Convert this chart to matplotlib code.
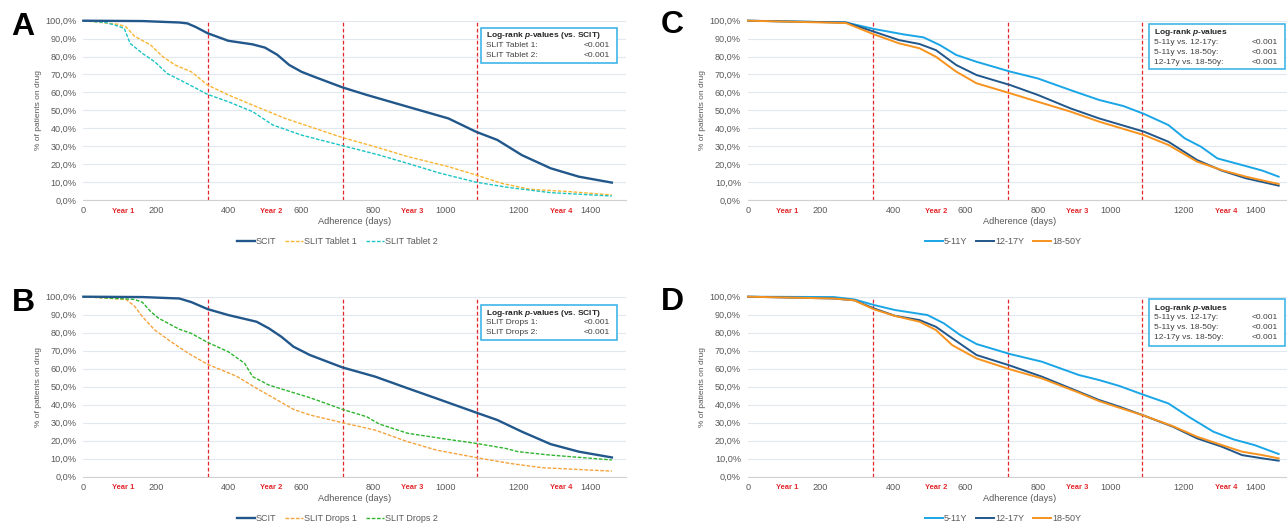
import numpy as np
import matplotlib
matplotlib.use("Agg")
import matplotlib.pyplot as plt
from matplotlib.patches import Rectangle
from matplotlib.transforms import blended_transform_factory

plt.rcParams['font.family'] = ['Liberation Sans', 'DejaVu Sans']
plt.rcParams['mathtext.fontset'] = 'custom'
plt.rcParams['mathtext.it'] = 'Liberation Sans:italic:bold'
plt.rcParams['mathtext.rm'] = 'Liberation Sans:bold'

# ---- data ----
year_lines = [345, 717, 1087]
year_labels = ["Year 1", "Year 2", "Year 3", "Year 4"]
year_label_pos = [109, 518, 907, 1318]
x_ticks = [0, 200, 400, 600, 800, 1000, 1200, 1400]
y_ticks = [0, 10, 20, 30, 40, 50, 60, 70, 80, 90, 100]

# panel A
a_scit_days = [0, 163, 265, 287, 310, 343, 400, 467, 501, 535, 568, 602, 636, 715, 782, 895, 1007, 1084, 1142, 1210, 1289, 1367, 1458]
a_scit_pct = [100, 99.8, 99.0, 98.5, 96.5, 93.0, 88.8, 86.8, 85.0, 81.0, 75.3, 71.5, 68.8, 62.8, 58.6, 52.0, 45.5, 38.0, 33.5, 25.0, 17.7, 13.0, 9.7]
a_tab1_days = [0, 96, 118, 141, 186, 219, 253, 298, 343, 400, 490, 557, 625, 715, 805, 895, 1007, 1084, 1154, 1232, 1345, 1458]
a_tab1_pct = [100, 98.0, 96.5, 91.4, 86.4, 80.0, 75.3, 71.5, 64.1, 58.6, 51.0, 45.5, 40.9, 34.8, 29.7, 24.2, 18.6, 13.9, 9.3, 6.0, 4.6, 2.8]
a_tab2_days = [0, 62, 96, 113, 129, 163, 197, 231, 276, 343, 400, 467, 523, 602, 715, 816, 895, 985, 1084, 1176, 1289, 1458]
a_tab2_pct = [100, 99.0, 97.0, 95.7, 87.4, 81.8, 77.1, 70.6, 66.0, 58.9, 54.8, 49.3, 41.8, 36.2, 30.3, 25.1, 20.4, 14.9, 9.9, 6.9, 4.1, 2.2]

# panel B
b_scit_days = [0, 163, 265, 298, 343, 400, 478, 512, 546, 580, 625, 715, 805, 895, 974, 1084, 1142, 1210, 1289, 1367, 1458]
b_scit_pct = [100, 99.8, 99.0, 97.0, 93.1, 89.8, 86.1, 82.4, 77.8, 72.2, 67.6, 60.7, 55.6, 49.1, 43.5, 35.6, 31.5, 25.0, 18.1, 13.9, 10.7]
b_drop1_days = [0, 118, 141, 163, 197, 242, 287, 343, 422, 478, 535, 580, 625, 715, 805, 895, 974, 1084, 1176, 1266, 1458]
b_drop1_pct = [100, 98.5, 94.8, 88.9, 81.5, 75.0, 68.9, 62.4, 55.9, 49.1, 42.6, 37.4, 34.3, 30.0, 25.9, 19.4, 14.8, 10.6, 7.4, 5.0, 3.1]
b_drop2_days = [0, 141, 163, 186, 208, 265, 298, 343, 400, 445, 467, 512, 557, 625, 670, 715, 782, 816, 895, 1007, 1084, 1165, 1199, 1289, 1458]
b_drop2_pct = [100, 98.5, 96.9, 91.7, 88.0, 81.9, 79.6, 74.6, 69.4, 63.0, 55.6, 50.9, 48.1, 43.9, 40.7, 37.4, 33.3, 29.3, 24.1, 20.7, 18.5, 15.7, 13.9, 12.0, 9.3]

# panel C
c_young_days = [0, 270, 347, 428, 484, 529, 574, 630, 723, 799, 889, 968, 1035, 1092, 1159, 1204, 1249, 1294, 1362, 1418, 1463]
c_young_pct = [100, 99.0, 95.4, 92.4, 90.7, 86.4, 80.9, 77.1, 71.6, 67.8, 61.3, 55.8, 52.4, 48.0, 41.8, 34.4, 29.7, 23.2, 19.5, 16.4, 13.0]
c_teen_days = [0, 270, 347, 416, 473, 518, 574, 630, 723, 799, 889, 968, 1092, 1159, 1238, 1306, 1373, 1463]
c_teen_pct = [100, 99.0, 93.9, 89.2, 87.0, 83.6, 75.3, 69.7, 64.1, 58.6, 51.1, 45.5, 38.1, 32.5, 22.3, 16.4, 12.1, 8.0]
c_adult_days = [0, 270, 347, 416, 473, 518, 574, 630, 723, 799, 889, 968, 1092, 1159, 1238, 1306, 1373, 1463]
c_adult_pct = [100, 98.7, 92.4, 87.4, 84.6, 79.9, 71.6, 65.1, 59.5, 54.8, 49.3, 43.7, 36.2, 30.7, 21.4, 16.7, 13.0, 8.9]

# panel D
d_young_days = [0, 236, 293, 347, 405, 495, 540, 585, 630, 723, 810, 912, 968, 1024, 1092, 1159, 1215, 1283, 1339, 1396, 1463]
d_young_pct = [100, 99.8, 98.5, 95.4, 92.6, 89.8, 85.2, 78.7, 73.7, 68.1, 63.9, 56.5, 53.7, 50.4, 45.4, 40.7, 33.3, 25.0, 20.7, 17.6, 12.6]
d_teen_days = [0, 236, 293, 347, 405, 473, 518, 563, 630, 723, 810, 912, 968, 1024, 1092, 1171, 1238, 1306, 1362, 1418, 1463]
d_teen_pct = [100, 99.0, 98.0, 93.5, 89.4, 87.0, 83.3, 76.9, 67.6, 61.7, 55.6, 47.2, 42.6, 38.9, 33.9, 27.8, 21.3, 16.7, 12.0, 10.2, 8.9]
d_adult_days = [0, 236, 293, 347, 405, 473, 518, 563, 630, 723, 810, 912, 968, 1024, 1092, 1171, 1238, 1306, 1362, 1418, 1463]
d_adult_pct = [100, 99.0, 98.0, 93.0, 89.3, 86.1, 81.5, 73.1, 65.7, 59.6, 54.6, 46.7, 42.0, 38.3, 33.9, 28.1, 22.2, 17.6, 13.9, 12.0, 10.2]

pvals_scit_tab = [("SLIT Tablet 1:", "<0.001"), ("SLIT Tablet 2:", "<0.001")]
pvals_scit_drop = [("SLIT Drops 1:", "<0.001"), ("SLIT Drops 2:", "<0.001")]
pvals_age = [("5-11y vs. 12-17y:", "<0.001"), ("5-11y vs. 18-50y:", "<0.001"), ("12-17y vs. 18-50y:", "<0.001")]

DARK = "#21578a"
TEXT = "#595959"
RED = "#e3262b"
FW, FH = 1287, 523


def px_axes(fig, left, top, right, bottom):
    return fig.add_axes([left / FW, 1 - bottom / FH, (right - left) / FW, (bottom - top) / FH])


def setup_axes(ax):
    ax.set_xlim(0, 1497)
    ax.set_ylim(0, 100)
    ax.set_xticks(x_ticks)
    ax.set_yticks(y_ticks)
    ax.set_yticklabels([f"{v:.1f}%".replace(".", ",") for v in y_ticks])
    ax.tick_params(length=0, labelsize=6.6, colors=TEXT, pad=4.5)
    ax.tick_params(axis='y', pad=5)
    for s in ['top', 'right', 'left']:
        ax.spines[s].set_visible(False)
    ax.spines['bottom'].set_color("#d0d0d0")
    ax.grid(axis='y', color="#e2e8ef", lw=0.8)
    ax.set_axisbelow(True)
    for x in year_lines:
        ax.axvline(x, color=RED, lw=0.9, ls=(0, (3, 1.8)), zorder=1)
    tr = blended_transform_factory(ax.transData, ax.transAxes)
    for lab, x in zip(year_labels, year_label_pos):
        ax.text(x, -0.062, lab, transform=tr, color=RED, fontsize=5.4, fontweight='bold',
                ha='center', va='center')
    ax.text(0.5, -0.121, "Adherence (days)", transform=ax.transAxes, fontsize=6.7,
            color=TEXT, ha='center', va='center')
    ax.set_ylabel("% of patients on drug", fontsize=6, color=TEXT)
    ax.yaxis.set_label_coords(-0.077, 0.5)


def pvalue_box(ax, x0, x1, y_top, y_bot, rows, title, lx, rx, row_y):
    ax.add_patch(Rectangle((x0, y_bot), x1 - x0, y_top - y_bot, transform=ax.transAxes,
                           facecolor='white', edgecolor="#41b6e6", lw=1.2, zorder=5,
                           clip_on=False))
    ax.text(lx, row_y[0], title, transform=ax.transAxes, fontsize=6, fontweight='bold',
            color="#262626", va='center', ha='left', zorder=6)
    for (name, val), y in zip(rows, row_y[1:]):
        ax.text(lx, y, name, transform=ax.transAxes, fontsize=6, color="#404040",
                va='center', ha='left', zorder=6)
        ax.text(rx, y, val, transform=ax.transAxes, fontsize=6, color="#404040",
                va='center', ha='right', zorder=6)


def legend(ax, x):
    ax.legend(loc='center', bbox_to_anchor=(x, -0.234), ncol=3, frameon=False,
              fontsize=6.5, handlelength=2.0, handletextpad=0.1, columnspacing=1.0,
              labelcolor=TEXT)


fig = plt.figure(figsize=(FW / 100, FH / 100), dpi=100)

ax_a = px_axes(fig, 83.3, 20.7, 626, 200)
ax_b = px_axes(fig, 83.3, 296.7, 626, 476.7)
ax_c = px_axes(fig, 748, 20.7, 1291, 200)
ax_d = px_axes(fig, 748, 296.7, 1291, 476.7)

dash = (0, (2.6, 1.2))
title_scit = r"Log-rank $p$-values (vs. SCIT)"
title_age = r"Log-rank $p$-values"

# A
setup_axes(ax_a)
ax_a.plot(a_scit_days, a_scit_pct, color=DARK, lw=1.7, label="SCIT", clip_on=False, zorder=4)
ax_a.plot(a_tab1_days, a_tab1_pct, color="#f9b530", lw=1.0, ls=dash, label="SLIT Tablet 1", clip_on=False, zorder=3)
ax_a.plot(a_tab2_days, a_tab2_pct, color="#1cc4c4", lw=1.0, ls=dash, label="SLIT Tablet 2", clip_on=False, zorder=3)
legend(ax_a, 0.468)
pvalue_box(ax_a, 0.732, 0.983, 0.959, 0.764, pvals_scit_tab, title_scit, 0.7415, 0.9706,
           [0.9147, 0.8628, 0.8087])

# B
setup_axes(ax_b)
ax_b.plot(b_scit_days, b_scit_pct, color=DARK, lw=1.7, label="SCIT", clip_on=False, zorder=4)
ax_b.plot(b_drop1_days, b_drop1_pct, color="#f5a33c", lw=1.0, ls=dash, label="SLIT Drops 1", clip_on=False, zorder=3)
ax_b.plot(b_drop2_days, b_drop2_pct, color="#2db52d", lw=1.0, ls=dash, label="SLIT Drops 2", clip_on=False, zorder=3)
legend(ax_b, 0.468)
pvalue_box(ax_b, 0.732, 0.983, 0.952, 0.759, pvals_scit_drop, title_scit, 0.7415, 0.9706,
           [0.9077, 0.8558, 0.8017])

# C
setup_axes(ax_c)
ax_c.plot(c_young_days, c_young_pct, color="#1aa6e6", lw=1.4, label="5-11Y", clip_on=False, zorder=3)
ax_c.plot(c_teen_days, c_teen_pct, color=DARK, lw=1.4, label="12-17Y", clip_on=False, zorder=3)
ax_c.plot(c_adult_days, c_adult_pct, color="#f7931e", lw=1.4, label="18-50Y", clip_on=False, zorder=3)
legend(ax_c, 0.47)
pvalue_box(ax_c, 0.7385, 0.989, 0.982, 0.7306, pvals_age, title_age, 0.748, 0.9766,
           [0.933, 0.879, 0.825, 0.7696])

# D
setup_axes(ax_d)
ax_d.plot(d_young_days, d_young_pct, color="#1aa6e6", lw=1.4, label="5-11Y", clip_on=False, zorder=3)
ax_d.plot(d_teen_days, d_teen_pct, color=DARK, lw=1.4, label="12-17Y", clip_on=False, zorder=3)
ax_d.plot(d_adult_days, d_adult_pct, color="#f7931e", lw=1.4, label="18-50Y", clip_on=False, zorder=3)
legend(ax_d, 0.47)
pvalue_box(ax_d, 0.7385, 0.989, 0.985, 0.726, pvals_age, title_age, 0.748, 0.9766,
           [0.936, 0.882, 0.828, 0.7726])

# panel letters
for letter, x, y in [("A", 23, 27), ("B", 23, 303), ("C", 672, 25), ("D", 672, 302)]:
    fig.text(x / FW, 1 - y / FH, letter, fontsize=23, fontweight='bold', ha='center', va='center')

fig.savefig("out.png", dpi=100)
